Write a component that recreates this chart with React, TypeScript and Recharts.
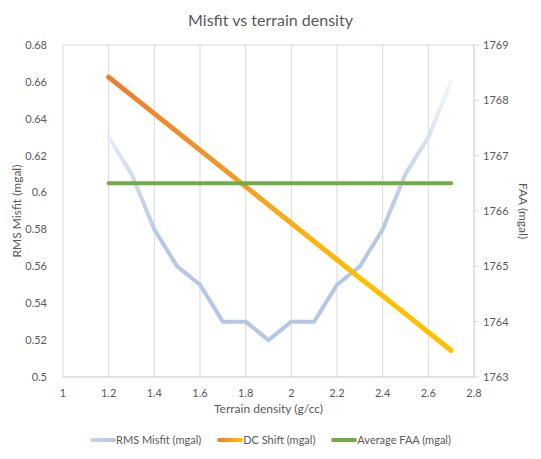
import { ComposedChart, Line, XAxis, YAxis, CartesianGrid } from 'recharts';

const density = [1.2, 1.3, 1.4, 1.5, 1.6, 1.7, 1.8, 1.9, 2.0, 2.1, 2.2, 2.3, 2.4, 2.5, 2.6, 2.7];
const rmsMisfit = [0.63, 0.61, 0.58, 0.56, 0.55, 0.53, 0.53, 0.52, 0.53, 0.53, 0.55, 0.56, 0.58, 0.61, 0.63, 0.66];
const dcShift = [1768.42, 1768.09, 1767.76, 1767.43, 1767.1, 1766.77, 1766.44, 1766.11, 1765.78, 1765.45, 1765.12, 1764.79, 1764.47, 1764.14, 1763.81, 1763.48];
const avgFaa = [1766.5, 1766.5, 1766.5, 1766.5, 1766.5, 1766.5, 1766.5, 1766.5, 1766.5, 1766.5, 1766.5, 1766.5, 1766.5, 1766.5, 1766.5, 1766.5];

const xTicks = [1, 1.2, 1.4, 1.6, 1.8, 2, 2.2, 2.4, 2.6, 2.8];
const leftTicks = [0.5, 0.52, 0.54, 0.56, 0.58, 0.6, 0.62, 0.64, 0.66, 0.68];
const rightTicks = [1763, 1764, 1765, 1766, 1767, 1768, 1769];

const data = density.map((d, i) => ({
  density: d,
  rms: rmsMisfit[i],
  dc: dcShift[i],
  faa: avgFaa[i],
}));

const FONT = 'Lato, "Open Sans", sans-serif';
const GREY = '#595959';
const GRID = '#d9d9d9';

const legendItems = [
  { label: 'RMS Misfit (mgal)', bg: 'linear-gradient(90deg, #c9d6ee, #b4c7e7)' },
  { label: 'DC Shift (mgal)', bg: 'linear-gradient(90deg, #ed7d31, #ffc000)' },
  { label: 'Average FAA (mgal)', bg: '#70ad47' },
];

export default function App() {
  const tick = { fontSize: 11, fill: GREY, fontFamily: FONT };
  return (
    <div style={{ position: 'relative', width: 541, height: 459, margin: -8, background: '#fff', fontFamily: FONT }}>
      <div style={{ position: 'absolute', top: 10, left: 0, width: 541, textAlign: 'center', fontSize: 16, color: GREY }}>
        Misfit vs terrain density
      </div>
      <ComposedChart width={541} height={459} data={data} margin={{ top: 45, right: 0, bottom: 0, left: 0 }}>
        <defs>
          <linearGradient id="rmsGrad" x1="0" y1="0" x2="1" y2="0">
            <stop offset="0" stopColor="#e6ecf7" />
            <stop offset="0.15" stopColor="#b4c7e7" />
            <stop offset="0.8" stopColor="#b4c7e7" />
            <stop offset="0.93" stopColor="#d6e0f2" />
            <stop offset="1" stopColor="#f3f6fb" />
          </linearGradient>
          <linearGradient id="dcGrad" x1="0" y1="0" x2="1" y2="0">
            <stop offset="0" stopColor="#ed7d31" />
            <stop offset="0.3" stopColor="#f19429" />
            <stop offset="0.6" stopColor="#fbb40f" />
            <stop offset="0.75" stopColor="#ffc000" />
            <stop offset="1" stopColor="#ffc000" />
          </linearGradient>
        </defs>
        <CartesianGrid stroke={GRID} strokeWidth={1} />
        <XAxis
          dataKey="density"
          type="number"
          domain={[1, 2.8]}
          ticks={xTicks}
          tick={tick}
          tickLine={false}
          axisLine={{ stroke: GRID }}
          height={82}
          tickMargin={6}
          label={{ value: 'Terrain density (g/cc)', position: 'insideTop', offset: 27, fill: GREY, fontSize: 12, fontFamily: FONT }}
        />
        <YAxis
          yAxisId="left"
          domain={[0.5, 0.68]}
          ticks={leftTicks}
          tick={tick}
          tickLine={false}
          axisLine={false}
          width={63}
          tickMargin={10}
          label={{ value: 'RMS Misfit (mgal)', angle: -90, position: 'insideLeft', offset: 17, fill: GREY, fontSize: 12, fontFamily: FONT, style: { textAnchor: 'middle' } }}
        />
        <YAxis
          yAxisId="right"
          orientation="right"
          domain={[1763, 1769]}
          ticks={rightTicks}
          tick={tick}
          tickLine={{ stroke: GRID }}
          tickSize={5}
          axisLine={{ stroke: GRID }}
          width={67}
          tickMargin={4}
          label={{ value: 'FAA (mgal)', angle: 90, position: 'insideRight', offset: 18, fill: GREY, fontSize: 12, fontFamily: FONT, style: { textAnchor: 'middle' } }}
        />
        <Line yAxisId="left" dataKey="rms" stroke="url(#rmsGrad)" strokeWidth={4} dot={false} strokeLinecap="round" strokeLinejoin="round" isAnimationActive={false} />
        <Line yAxisId="right" dataKey="dc" stroke="url(#dcGrad)" strokeWidth={5} dot={false} strokeLinecap="round" isAnimationActive={false} />
        <Line yAxisId="right" dataKey="faa" stroke="#70ad47" strokeWidth={4} dot={false} strokeLinecap="round" isAnimationActive={false} />
      </ComposedChart>
      <div style={{ position: 'absolute', top: 433, left: 0, width: 541, display: 'flex', justifyContent: 'center', gap: 16, fontSize: 11, color: GREY }}>
        {legendItems.map(item => (
          <div key={item.label} style={{ display: 'flex', alignItems: 'center' }}>
            <div style={{ width: 26, height: 4, borderRadius: 2, background: item.bg }}></div>
            <span>{item.label}</span>
          </div>
        ))}
      </div>
    </div>
  );
}
